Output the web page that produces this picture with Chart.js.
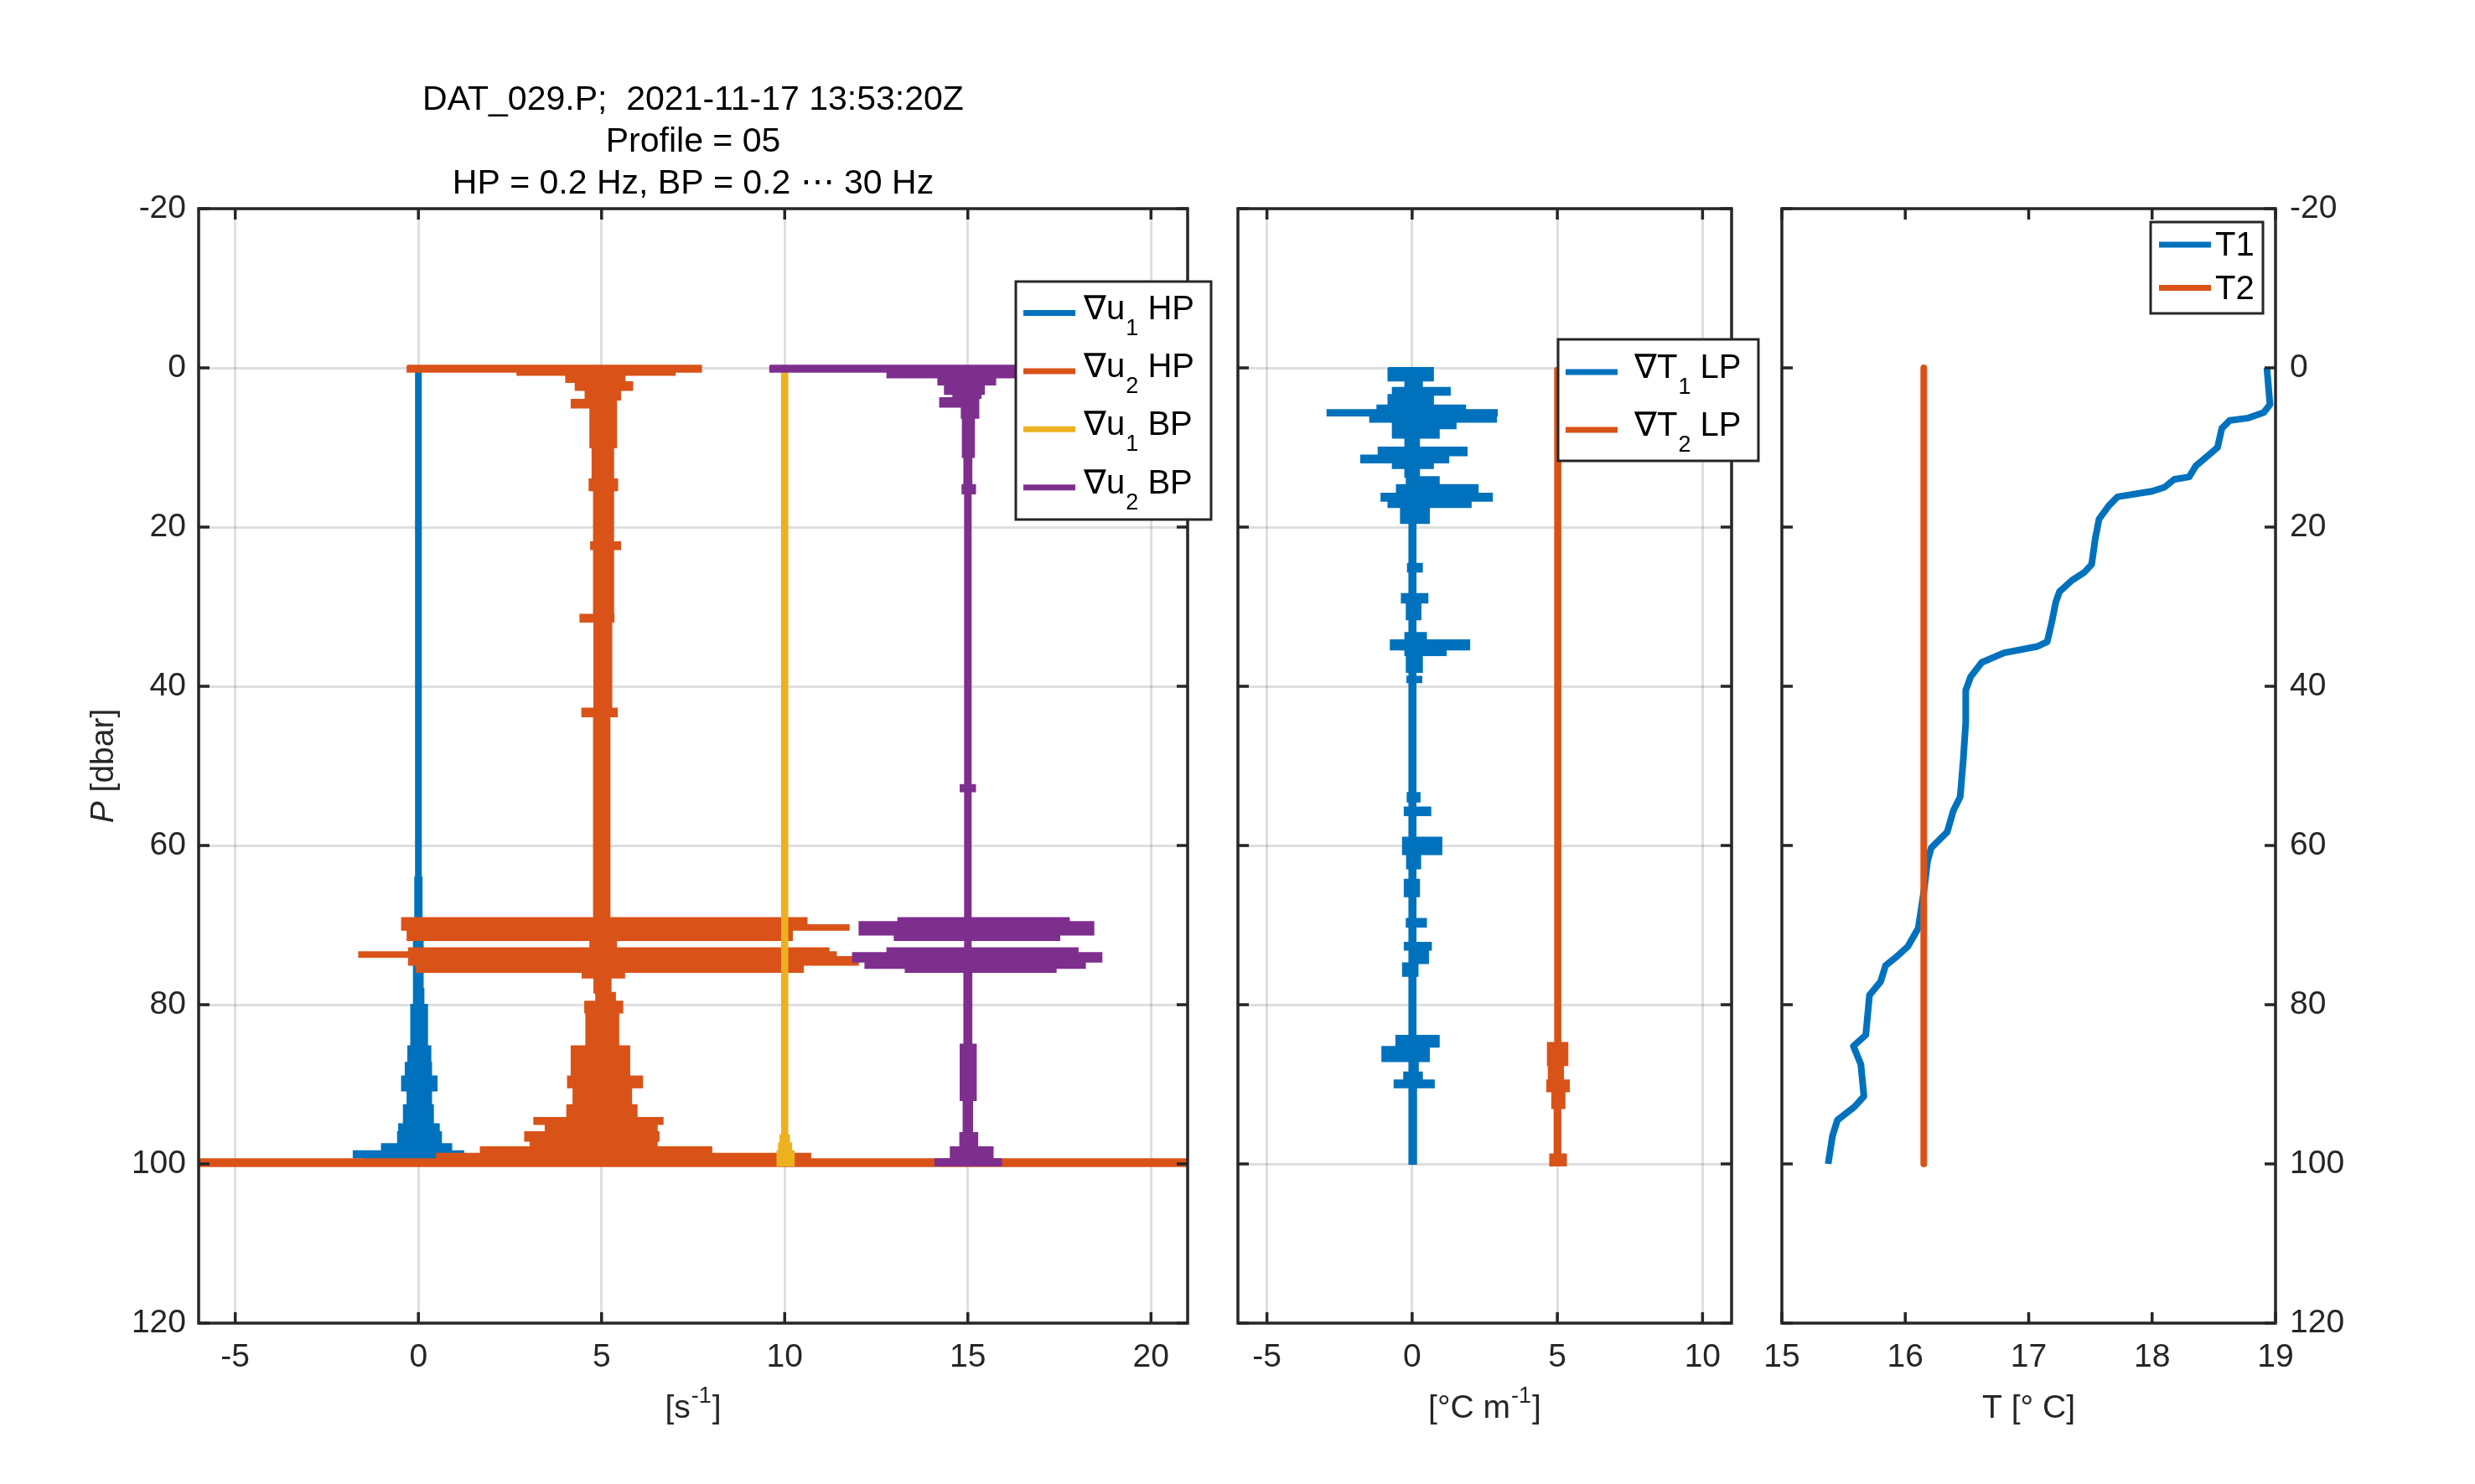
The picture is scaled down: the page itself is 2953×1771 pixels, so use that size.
<!DOCTYPE html>
<html>
<head>
<meta charset="utf-8">
<script src="https://cdn.jsdelivr.net/npm/chart.js@4.4.0/dist/chart.umd.min.js"></script>
<style>
body{margin:0;background:#fff;width:2953px;height:1771px;overflow:hidden;position:relative;}
canvas{position:absolute;top:0;}
</style>
</head>
<body>
<canvas id="shear" width="1470" height="1771" style="left:0"></canvas>
<canvas id="grad" width="650" height="1771" style="left:1470px"></canvas>
<canvas id="temp" width="873" height="1771" style="left:2080px"></canvas>
<script>
// axis ticks
const pTicks = [-20, 0, 20, 40, 60, 80, 100, 120];
const shearTicks = [-5, 0, 5, 10, 15, 20];
const gradTicks = [-5, 0, 5, 10];
const tempTicks = [15, 16, 17, 18, 19];

// shear traces, read as envelopes: depth bounds (dbar) and left/right extent per layer
// (the plot offsets are already in the values: 0, 5, 10, 15)
const u1hpP  = [0, 64, 72, 78, 80, 85.2, 87.3, 89, 90.8, 92.6, 95, 96, 97.5, 98.4, 99.2, 100.2];
const u1hpLo = [-0.07, -0.09, -0.12, -0.13, -0.2, -0.28, -0.35, -0.45, -0.3, -0.4, -0.53, -0.56, -1.0, -1.77, -1.47];
const u1hpHi = [0.07, 0.09, 0.12, 0.14, 0.24, 0.33, 0.35, 0.5, 0.35, 0.4, 0.56, 0.62, 0.9, 1.23, 0.82];

const u2hpP  = [-0.3, 0.5, 0.9, 1.8, 2.8, 4.0, 5.0, 10, 14.0, 15.4, 21.9, 22.8, 31.0, 31.9, 42.8, 43.8, 69.1, 70.0, 70.6, 71.9, 72.9, 73.4, 74.0, 75.0, 75.9, 76.6, 78.5, 79.6, 81, 85.2, 89, 90.4, 92.6, 94.2, 95, 96, 97.1, 97.9, 98.7, 99.4, 100.3];
const u2hpLo = [-0.3, 2.7, 4.03, 4.29, 4.56, 4.18, 4.69, 4.75, 4.67, 4.79, 4.71, 4.79, 4.42, 4.8, 4.47, 4.79, -0.45, -0.45, -0.3, 4.69, -0.26, -1.62, -0.26, -0.05, 4.48, 4.8, 4.85, 4.55, 4.58, 4.18, 4.08, 4.23, 4.06, 3.16, 3.47, 2.91, 3.06, 1.7, 0.5, -6.5];
const u2hpHi = [7.72, 7.0, 5.63, 5.84, 5.51, 5.4, 5.4, 5.32, 5.43, 5.32, 5.51, 5.32, 5.33, 5.27, 5.42, 5.22, 10.6, 11.75, 10.2, 5.4, 11.2, 11.4, 12.0, 10.5, 5.62, 5.25, 5.37, 5.57, 5.46, 5.76, 6.11, 5.81, 5.96, 6.67, 6.51, 6.56, 6.51, 8.0, 10.7, 21.5];

const u1bpP  = [0, 96.4, 97.4, 98.4, 100.2];
const u1bpLo = [9.925, 9.88, 9.84, 9.8];
const u1bpHi = [10.075, 10.12, 10.18, 10.25];

const u2bpP  = [-0.3, 0.5, 1.2, 2.1, 3.3, 3.8, 4.9, 6.3, 11.2, 14.7, 15.8, 52.4, 53.2, 69.1, 69.6, 71.2, 71.9, 72.9, 73.5, 74.6, 75.4, 75.9, 85, 92, 96.1, 97.9, 99.4, 100.2];
const u2bpLo = [9.6, 12.8, 14.19, 14.37, 14.6, 14.24, 14.83, 14.86, 14.9, 14.85, 14.92, 14.8, 14.92, 13.1, 12.04, 13.0, 14.92, 12.8, 11.86, 12.2, 13.3, 14.9, 14.8, 14.88, 14.79, 14.53, 14.11];
const u2bpHi = [17.5, 16.5, 15.75, 15.44, 15.35, 15.29, 15.29, 15.17, 15.1, 15.2, 15.08, 15.2, 15.08, 17.76, 18.43, 17.5, 15.08, 18.0, 18.65, 18.2, 17.4, 15.1, 15.22, 15.12, 15.26, 15.68, 15.91];

// temperature gradient traces (offsets 0 and 5)
const dT1P  = [0, 1.6, 2.5, 3.4, 4.7, 5.3, 6.0, 6.8, 7.6, 8.8, 10, 11, 11.9, 12.6, 13.7, 14.7, 15.8, 16.7, 17.5, 19.5, 24.6, 25.6, 28.4, 29.5, 31.6, 33.3, 34.2, 35.4, 36.1, 38.2, 38.8, 39.5, 53.4, 54.5, 55.2, 56.2, 59, 61.1, 62.9, 64.3, 66.4, 69.2, 70.2, 72.2, 73.1, 74.8, 76.4, 83.9, 85.3, 87.1, 88.5, 89.5, 90.4, 100];
const dT1Lo = [-0.82, -0.24, -0.67, -0.82, -1.2, -2.92, -1.45, -0.67, -0.67, -0.24, -1.16, -1.76, -0.67, -0.24, -0.19, -0.53, -1.06, -0.82, -0.39, -0.1, -0.15, -0.1, -0.36, -0.19, -0.1, -0.24, -0.74, -0.24, -0.19, -0.1, -0.17, -0.1, -0.16, -0.1, -0.26, -0.1, -0.32, -0.18, -0.1, -0.26, -0.1, -0.19, -0.1, -0.26, -0.1, -0.32, -0.1, -0.55, -1.03, -0.1, -0.28, -0.61, -0.1];
const dT1Hi = [0.72, 0.34, 1.3, 0.72, 1.83, 2.92, 2.89, 1.5, 0.92, 0.24, 1.88, 1.25, 0.72, 0.24, 0.92, 2.26, 2.75, 2.02, 0.58, 0.12, 0.34, 0.12, 0.53, 0.29, 0.12, 0.48, 1.97, 1.16, 0.34, 0.12, 0.32, 0.12, 0.26, 0.12, 0.63, 0.12, 1.01, 0.28, 0.12, 0.24, 0.12, 0.48, 0.12, 0.65, 0.55, 0.19, 0.12, 0.92, 0.58, 0.2, 0.34, 0.75, 0.14];

const dT2P  = [0, 84.8, 87.6, 89.5, 90.9, 93, 98.8, 100.2];
const dT2Lo = [4.92, 4.67, 4.7, 4.65, 4.82, 4.9, 4.75];
const dT2Hi = [5.11, 5.35, 5.2, 5.4, 5.25, 5.11, 5.3];

// temperature profiles
const t1P = [0, 4.6, 5.6, 6.3, 6.6, 7.6, 10.0, 11.0, 12.3, 13.7, 14.0, 15.0, 15.5, 16.2, 17.3, 19.0, 21.4, 24.7, 25.7, 26.7, 28.1, 29.4, 32.1, 34.4, 35.0, 35.8, 37.0, 38.8, 40.5, 44.5, 49.2, 53.9, 55.6, 58.3, 60.3, 62.0, 65.3, 70.4, 72.7, 74.1, 75.1, 77.1, 78.8, 83.8, 85.2, 87.5, 91.5, 92.8, 94.5, 96.5, 100];
const t1T = [18.93, 18.955, 18.905, 18.78, 18.63, 18.565, 18.53, 18.455, 18.355, 18.30, 18.18, 18.10, 18.0, 17.72, 17.65, 17.57, 17.54, 17.51, 17.45, 17.35, 17.25, 17.22, 17.185, 17.15, 17.07, 16.80, 16.62, 16.53, 16.49, 16.49, 16.47, 16.445, 16.39, 16.34, 16.21, 16.18, 16.155, 16.105, 16.02, 15.92, 15.84, 15.80, 15.71, 15.68, 15.58, 15.64, 15.665, 15.59, 15.45, 15.41, 15.375];
const t2P = [0, 100];
const t2T = [16.15, 16.15];

const shearNames = [['∇u', '1', ' HP'], ['∇u', '2', ' HP'], ['∇u', '1', ' BP'], ['∇u', '2', ' BP']];
const gradNames = [['∇T', '1', ' LP'], ['∇T', '2', ' LP']];
const tempNames = [['T1', '', ''], ['T2', '', '']];
const titleLines = ['DAT_029.P;  2021-11-17 13:53:20Z', 'Profile = 05', 'HP = 0.2 Hz, BP = 0.2 ⋯ 30 Hz'];
const shearUnit = ['[s', '-1', ']'];
const gradUnit = ['[°C m', '-1', ']'];
const tempUnit = ['T [° C]', '', ''];

const BLUE = '#0072BD', ORANGE = '#D95319', YELLOW = '#EDB120', PURPLE = '#7E2F8E';
const FONT = '"Liberation Sans", Helvetica, Arial, sans-serif';
const INK = '#262626';
const GRID = 'rgba(38,38,38,0.15)';

// closed outline: down the left edge, back up the right edge
function envelope(bounds, lo, hi) {
    const pts = [];
    for (let i = 0; i < lo.length; i++) {
        pts.push({x: lo[i], y: bounds[i]}, {x: lo[i], y: bounds[i + 1]});
    }
    for (let i = hi.length - 1; i >= 0; i--) {
        pts.push({x: hi[i], y: bounds[i + 1]}, {x: hi[i], y: bounds[i]});
    }
    pts.push(pts[0]);
    return pts;
}

function trace(bounds, lo, hi, color, names, order) {
    return {
        label: names.join(''), parts: names, data: envelope(bounds, lo, hi),
        showLine: true, fill: 'shape', borderColor: color, backgroundColor: color,
        borderWidth: 2, pointRadius: 0, order: order
    };
}

function profile(p, t, color, names, order) {
    return {
        label: names.join(''), parts: names, data: p.map((v, i) => ({x: t[i], y: v})),
        showLine: true, fill: false, borderColor: color, backgroundColor: color,
        borderWidth: 8, pointRadius: 0, order: order, borderJoinStyle: 'round'
    };
}

// MATLAB style box with inward ticks on all four sides
const frame = {
    id: 'frame',
    afterDatasetsDraw(chart) {
        const {ctx, chartArea: a} = chart;
        const x = chart.scales.x, y = chart.scales.y;
        const len = 13;
        ctx.save();
        ctx.strokeStyle = INK;
        ctx.lineWidth = 3.5;
        ctx.beginPath();
        x.ticks.forEach(t => {
            const px = x.getPixelForValue(t.value);
            ctx.moveTo(px, a.bottom); ctx.lineTo(px, a.bottom - len);
            ctx.moveTo(px, a.top); ctx.lineTo(px, a.top + len);
        });
        y.ticks.forEach(t => {
            const py = y.getPixelForValue(t.value);
            ctx.moveTo(a.left, py); ctx.lineTo(a.left + len, py);
            ctx.moveTo(a.right, py); ctx.lineTo(a.right - len, py);
        });
        ctx.stroke();
        ctx.strokeRect(a.left, a.top, a.right - a.left, a.bottom - a.top);
        ctx.restore();
    }
};

const boxLegend = {
    id: 'boxLegend',
    afterDraw(chart, args, o) {
        if (!o || !o.w) return;
        const ctx = chart.ctx;
        ctx.save();
        ctx.fillStyle = '#fff';
        ctx.fillRect(o.x, o.y, o.w, o.h);
        ctx.strokeStyle = INK;
        ctx.lineWidth = 3;
        ctx.strokeRect(o.x, o.y, o.w, o.h);
        chart.data.datasets.forEach((ds, i) => {
            const ly = o.y + o.first + i * o.step;
            ctx.strokeStyle = ds.borderColor;
            ctx.lineWidth = 7;
            ctx.beginPath();
            ctx.moveTo(o.x + o.lineFrom, ly);
            ctx.lineTo(o.x + o.lineTo, ly);
            ctx.stroke();
            ctx.fillStyle = '#000';
            const [head, sub, tail] = ds.parts;
            let tx = o.x + o.textAt;
            ctx.font = `40px ${FONT}`;
            if (sub) {
                ctx.textBaseline = 'alphabetic';
                ctx.fillText(head, tx, ly + 7);
                tx += ctx.measureText(head).width + 1;
                ctx.font = `27px ${FONT}`;
                ctx.fillText(sub, tx, ly + 26);
                tx += ctx.measureText(sub).width;
                ctx.font = `40px ${FONT}`;
                ctx.fillText(tail, tx, ly + 7);
            } else {
                ctx.textBaseline = 'middle';
                ctx.fillText(head, tx, ly + 2);
            }
        });
        ctx.restore();
    }
};

// x axis caption with a raised exponent, centred under the plot
const unitLabel = {
    id: 'unitLabel',
    afterDraw(chart, args, o) {
        if (!o || !o.parts) return;
        const {ctx, chartArea: a} = chart;
        const [pre, sup, post] = o.parts;
        ctx.save();
        ctx.fillStyle = INK;
        ctx.textBaseline = 'alphabetic';
        const big = `39px ${FONT}`, small = `27px ${FONT}`;
        ctx.font = big;
        const w1 = ctx.measureText(pre).width, w3 = ctx.measureText(post).width;
        ctx.font = small;
        const w2 = sup ? ctx.measureText(sup).width + 2 : 0;
        let x = (a.left + a.right) / 2 - (w1 + w2 + w3) / 2;
        ctx.font = big;
        ctx.fillText(pre, x, o.y);
        x += w1;
        if (sup) {
            ctx.font = small;
            ctx.fillText(sup, x + 1, o.y - 18);
            x += w2;
        }
        ctx.font = big;
        ctx.fillText(post, x, o.y);
        ctx.restore();
    }
};

const pLabel = {
    id: 'pLabel',
    afterDraw(chart, args, o) {
        if (!o || !o.text) return;
        const {ctx, chartArea: a} = chart;
        ctx.save();
        ctx.translate(o.x, (a.top + a.bottom) / 2);
        ctx.rotate(-Math.PI / 2);
        ctx.fillStyle = INK;
        ctx.textBaseline = 'middle';
        ctx.font = `italic 39px ${FONT}`;
        const w1 = ctx.measureText(o.italic).width;
        ctx.font = `39px ${FONT}`;
        const w2 = ctx.measureText(o.text).width;
        const sx = -(w1 + w2) / 2;
        ctx.font = `italic 39px ${FONT}`;
        ctx.fillText(o.italic, sx, 0);
        ctx.font = `39px ${FONT}`;
        ctx.fillText(o.text, sx + w1, 0);
        ctx.restore();
    }
};

function xAxis(min, max, ticks, grid) {
    return {
        type: 'linear', position: 'bottom', min: min, max: max,
        afterBuildTicks: s => { s.ticks = ticks.map(v => ({value: v})); },
        afterFit: s => { s.height = 192; s.paddingLeft = 0; s.paddingRight = 0; },
        grid: {display: grid, color: GRID, lineWidth: 3, drawTicks: false},
        border: {display: false},
        ticks: {font: {family: FONT, size: 39}, color: INK, padding: 18, maxRotation: 0, autoSkip: false}
    };
}

function yAxis(position, labels, width, pad, grid) {
    return {
        type: 'linear', position: position, reverse: true, min: -20, max: 120,
        afterBuildTicks: s => { s.ticks = pTicks.map(v => ({value: v})); },
        afterFit: s => { s.width = width; s.paddingTop = 0; s.paddingBottom = 0; },
        grid: {display: grid, color: GRID, lineWidth: 3, drawTicks: false},
        border: {display: false},
        ticks: {display: labels, font: {family: FONT, size: 39}, color: INK, padding: pad, autoSkip: false}
    };
}

function baseOptions(padding) {
    return {
        responsive: false, animation: false, devicePixelRatio: 1,
        layout: {padding: padding},
        events: []
    };
}

// left panel: shear
new Chart(document.getElementById('shear'), {
    type: 'scatter',
    data: {datasets: [
        trace(u1hpP, u1hpLo, u1hpHi, BLUE, shearNames[0], 4),
        trace(u2hpP, u2hpLo, u2hpHi, ORANGE, shearNames[1], 3),
        trace(u1bpP, u1bpLo, u1bpHi, YELLOW, shearNames[2], 2),
        trace(u2bpP, u2bpLo, u2bpHi, PURPLE, shearNames[3], 1)
    ]},
    options: Object.assign(baseOptions({left: 0, right: 53, top: 0, bottom: 0}), {
        scales: {x: xAxis(-6, 21, shearTicks, true), y: yAxis('left', true, 237, 15, true)},
        plugins: {
            legend: {display: false}, tooltip: {enabled: false},
            title: {display: true, text: titleLines, fullSize: false, color: '#000',
                    font: {family: FONT, size: 41, weight: 'normal', lineHeight: 50 / 41}, padding: {top: 95, bottom: 4}},
            boxLegend: {x: 1212, y: 336, w: 233, h: 284, first: 37.5, step: 69.4, lineFrom: 9, lineTo: 71, textAt: 81},
            unitLabel: {parts: shearUnit, y: 1692},
            pLabel: {x: 124, italic: 'P', text: ' [dbar]'}
        }
    }),
    plugins: [frame, boxLegend, unitLabel, pLabel]
});

// middle panel: temperature gradient
new Chart(document.getElementById('grad'), {
    type: 'scatter',
    data: {datasets: [
        trace(dT1P, dT1Lo, dT1Hi, BLUE, gradNames[0], 2),
        trace(dT2P, dT2Lo, dT2Hi, ORANGE, gradNames[1], 1)
    ]},
    options: Object.assign(baseOptions({left: 0, right: 54, top: 249, bottom: 0}), {
        scales: {x: xAxis(-6, 11, gradTicks, true), y: yAxis('left', false, 7, 0, true)},
        plugins: {
            legend: {display: false}, tooltip: {enabled: false},
            boxLegend: {x: 389, y: 405, w: 239, h: 145, first: 39, step: 69, lineFrom: 9, lineTo: 71, textAt: 91},
            unitLabel: {parts: gradUnit, y: 1692}
        }
    }),
    plugins: [frame, boxLegend, unitLabel]
});

// right panel: temperature
new Chart(document.getElementById('temp'), {
    type: 'scatter',
    data: {datasets: [
        profile(t1P, t1T, BLUE, tempNames[0], 2),
        profile(t2P, t2T, ORANGE, tempNames[1], 1)
    ]},
    options: Object.assign(baseOptions({left: 46, right: 0, top: 249, bottom: 0}), {
        scales: {x: xAxis(15, 19, tempTicks, false), y: yAxis('right', true, 238, 17, false)},
        plugins: {
            legend: {display: false}, tooltip: {enabled: false},
            boxLegend: {x: 486, y: 265, w: 134, h: 109, first: 27, step: 51.5, lineFrom: 10, lineTo: 72, textAt: 77},
            unitLabel: {parts: tempUnit, y: 1692}
        }
    }),
    plugins: [frame, boxLegend, unitLabel]
});
</script>
</body>
</html>
